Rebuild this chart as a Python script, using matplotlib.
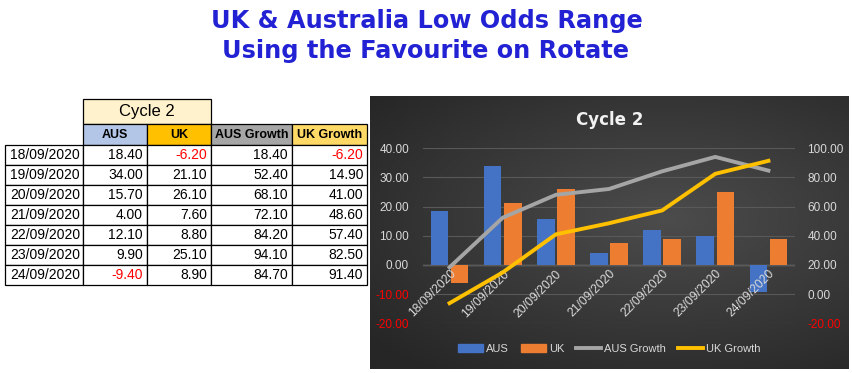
import numpy as np
import matplotlib
matplotlib.use('Agg')
import matplotlib.pyplot as plt
from matplotlib.patches import Rectangle, Patch
from matplotlib.lines import Line2D
from matplotlib.colors import LinearSegmentedColormap

plt.rcParams['font.family'] = ['Liberation Sans', 'DejaVu Sans']

dates = ['18/09/2020', '19/09/2020', '20/09/2020', '21/09/2020',
         '22/09/2020', '23/09/2020', '24/09/2020']
aus = [18.40, 34.00, 15.70, 4.00, 12.10, 9.90, -9.40]
uk = [-6.20, 21.10, 26.10, 7.60, 8.80, 25.10, 8.90]
aus_growth = [18.40, 52.40, 68.10, 72.10, 84.20, 94.10, 84.70]
uk_growth = [-6.20, 14.90, 41.00, 48.60, 57.40, 82.50, 91.40]
headers = ['AUS', 'UK', 'AUS Growth', 'UK Growth']
header_colors = ['#b4c6e7', '#ffc000', '#a6a6a6', '#ffd966']

W, H = 852, 373
fig = plt.figure(figsize=(W / 100, H / 100), dpi=100)
fig.patch.set_facecolor('white')

# overlay axes in pixel coords for the table and title
ov = fig.add_axes([0, 0, 1, 1], zorder=0)
ov.set_xlim(0, W)
ov.set_ylim(H, 0)
ov.axis('off')

fig.text(427 / W, 1 - 21 / H, 'UK & Australia Low Odds Range', ha='center', va='center',
         fontsize=17.3, fontweight='heavy', color='#2222d4', family='DejaVu Sans')
fig.text(426 / W, 1 - 51 / H, 'Using the Favourite on Rotate', ha='center', va='center',
         fontsize=17.3, fontweight='heavy', color='#2222d4', family='DejaVu Sans')

# table
col_x = [5, 83, 147, 211, 292, 367]
row_y = [145, 165, 185, 205, 225, 245, 265, 285]
lw = 0.9
ov.add_patch(Rectangle((col_x[1], 99), col_x[3] - col_x[1], 25, facecolor='#fff2cc',
                       edgecolor='black', lw=lw))
ov.text((col_x[1] + col_x[3]) / 2, 111.5, 'Cycle 2', ha='center', va='center', fontsize=12)
for j, (h, c) in enumerate(zip(headers, header_colors)):
    ov.add_patch(Rectangle((col_x[j + 1], 124), col_x[j + 2] - col_x[j + 1], 21,
                           facecolor=c, edgecolor='black', lw=lw))
    ov.text((col_x[j + 1] + col_x[j + 2]) / 2, 134.5, h, ha='center', va='center',
            fontsize=9, fontweight='bold')
cols = [aus, uk, aus_growth, uk_growth]
for i, d in enumerate(dates):
    y0, y1 = row_y[i], row_y[i + 1]
    ym = (y0 + y1) / 2
    for j in range(5):
        ov.add_patch(Rectangle((col_x[j], y0), col_x[j + 1] - col_x[j], y1 - y0,
                               facecolor='white', edgecolor='black', lw=lw))
    ov.text(col_x[1] - 3, ym, d, ha='right', va='center', fontsize=10)
    for j, vals in enumerate(cols):
        v = vals[i]
        ov.text(col_x[j + 2] - 4, ym, f'{v:.2f}', ha='right', va='center', fontsize=10,
                color='red' if v < 0 else 'black')

# chart background
bx0, by0, bx1, by1 = 370, 96, 849, 369
bg = fig.add_axes([bx0 / W, 1 - by1 / H, (bx1 - bx0) / W, (by1 - by0) / H], zorder=1)
gx, gy = np.meshgrid(np.linspace(0, 1, 200), np.linspace(0, 1, 120))
r = np.sqrt(((gx - 0.62) / 0.9) ** 2 + ((gy - 0.45) / 0.8) ** 2)
cmap = LinearSegmentedColormap.from_list('bg', ['#4c4c4c', '#262626'])
bg.imshow(r, cmap=cmap, aspect='auto', extent=(0, 1, 0, 1), vmin=0, vmax=0.9)
bg.axis('off')
fig.text((bx0 + bx1) / 2 / W, 1 - 120 / H, 'Cycle 2', ha='center', va='center',
         fontsize=12, fontweight='bold', color='#f2f2f2', family='DejaVu Sans', zorder=5)

# main plot
px0, px1, py_top, py_bot = 423, 795, 148.3, 323.3
ax = fig.add_axes([px0 / W, 1 - py_bot / H, (px1 - px0) / W, (py_bot - py_top) / H], zorder=2)
ax.patch.set_alpha(0)
x = np.arange(len(dates))
bw = 0.33
ax.bar(x - 0.19, aus, bw, color='#4472c4')
ax.bar(x + 0.19, uk, bw, color='#ed7d31')
ax.set_xlim(-0.5, len(dates) - 0.5)
ax.set_ylim(-20, 40)
ax.set_yticks(np.arange(-20, 41, 10))
ax.set_yticklabels([f'{v:.2f}' for v in np.arange(-20, 41, 10)])
ax.set_axisbelow(True)
ax.grid(axis='y', color='#595959', lw=0.8)
ax.axhline(0, color='#a6a6a6', lw=0.9, zorder=0.5)
ax.spines['bottom'].set_position(('data', 0))
for s in ax.spines.values():
    s.set_visible(False)
ax.tick_params(length=0, labelsize=8.5, colors='#d9d9d9', pad=10)
for t in ax.get_yticklabels():
    if float(t.get_text()) < 0:
        t.set_color('red')
ax.set_xticks(x)
ax.set_xticklabels(dates, rotation=45, ha='right', va='top', rotation_mode='anchor',
                   fontsize=8.8, color='#d9d9d9')
ax.tick_params(axis='x', pad=2)
ax.xaxis.set_zorder(3)  # date labels over the negative bar

ax2 = ax.twinx()
ax2.plot(x, aus_growth, color='#a5a5a5', lw=2.8, solid_joinstyle='round')
ax2.plot(x, uk_growth, color='#ffc000', lw=2.8, solid_joinstyle='round')
ax2.set_ylim(-20, 100)
ax2.set_yticks(np.arange(-20, 101, 20))
ax2.set_yticklabels([f'{v:.2f}' for v in np.arange(-20, 101, 20)])
for s in ax2.spines.values():
    s.set_visible(False)
ax2.tick_params(length=0, labelsize=8.5, colors='#d9d9d9', pad=9)
for t in ax2.get_yticklabels():
    if float(t.get_text()) < 0:
        t.set_color('red')

handles = [Patch(color='#4472c4'), Patch(color='#ed7d31'),
           Line2D([], [], color='#a5a5a5', lw=2.8), Line2D([], [], color='#ffc000', lw=2.8)]
leg = fig.legend(handles, ['AUS', 'UK', 'AUS Growth', 'UK Growth'], ncol=4, frameon=False,
                 loc='center', bbox_to_anchor=((bx0 + bx1) / 2 / W, 1 - 349 / H),
                 fontsize=8, labelcolor='#d9d9d9', handlelength=2.2, handletextpad=0.3,
                 columnspacing=1.1)
leg.set_zorder(5)

fig.savefig('out.png', dpi=100)
